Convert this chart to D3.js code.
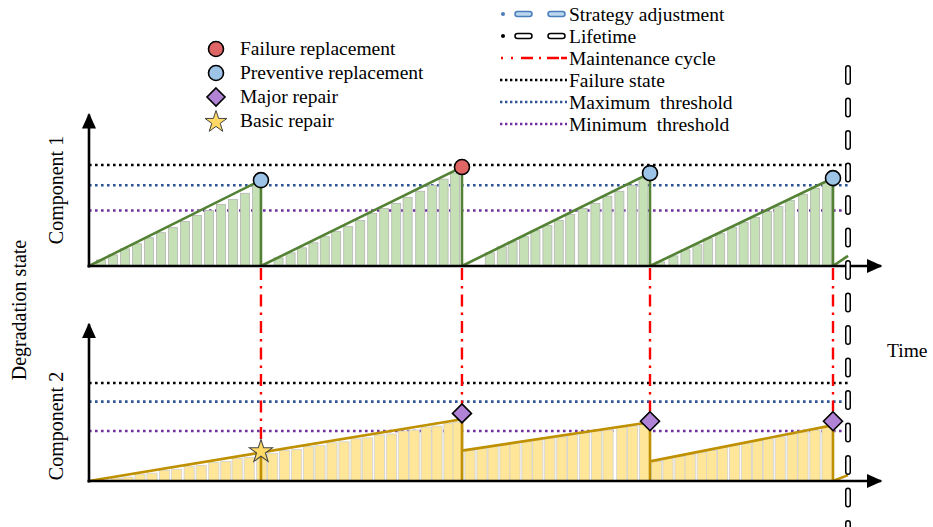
<!DOCTYPE html>
<html><head><meta charset="utf-8">
<script src="https://cdn.jsdelivr.net/npm/d3@7"></script>
<style>html,body{margin:0;padding:0;background:#fff;}svg{display:block;font-family:"Liberation Serif","Times New Roman",serif;}text{white-space:pre;}</style>
</head><body>
<svg id="c" width="933" height="527"></svg>
<script>
// ---------- data ----------
const maintenanceTimes = [14.33, 31.08, 46.75, 62.0];
const lifetimeTime = 63.25;
const thresholds1 = {failure: 1.0, max: 0.80, min: 0.55};
const thresholds2 = {failure: 1.0, max: 0.81, min: 0.51};

// component 1 degradation paths (start time, end time, end value)
const c1SegStart = [0, 14.33, 31.08, 46.75, 62.0];
const c1SegEnd   = [14.33, 31.08, 46.75, 62.0, 63.25];
const c1SegPeak  = [0.85, 0.98, 0.92, 0.87, 0.10];
const c1Events = ["preventive", "failure", "preventive", "preventive"];

const c1BarT = [1,2,3,4,5,6,7,8,9,10,11,12,13,14,
  15.8,16.8,17.75,18.7,19.65,20.6,21.6,22.6,23.6,24.6,25.6,26.55,27.6,28.6,29.55,30.5,
  33.4,34.4,35.3,36.25,37.2,38.2,39.15,40.1,41.15,42.2,43.2,44.2,45.25,46.2,
  47.6,48.7,49.7,50.7,51.6,52.6,53.6,54.55,55.5,56.5,57.45,58.4,59.5,60.5,61.5];
const c1BarV = [0.06,0.11,0.17,0.22,0.28,0.33,0.38,0.44,0.50,0.55,0.61,0.66,0.72,0.80,
  0.08,0.13,0.18,0.23,0.29,0.34,0.39,0.45,0.52,0.57,0.62,0.68,0.74,0.80,0.86,0.92,
  0.13,0.19,0.24,0.29,0.35,0.40,0.45,0.51,0.57,0.62,0.69,0.74,0.80,0.87,
  0.04,0.10,0.16,0.21,0.27,0.32,0.38,0.43,0.48,0.54,0.59,0.65,0.71,0.77,0.82];

// component 2 degradation paths
const c2SegStart  = [0, 31.08, 46.75, 62.0];
const c2SegEnd    = [31.08, 46.75, 62.0, 63.25];
const c2SegStartV = [0, 0.31, 0.20, 0];
const c2SegEndV   = [0.63, 0.60, 0.57, 0.06];
const c2BasicRepairT = 14.33, c2BasicRepairV = 0.30;
const c2MajorT = [31.08, 46.75, 62.0];
const c2MajorV = [0.69, 0.61, 0.61];

const c2BarT = [1.3,2.3,3.25,4.25,5.25,6.3,7.3,8.35,9.35,10.4,11.4,12.35,13.35,14.4,15.3,16.3,17.3,18.3,19.25,20.25,21.25,22.25,23.2,24.2,25.2,26.2,27.1,28.1,29.0,30.0,30.75,
  31.75,32.75,33.67,34.67,35.5,36.5,37.4,38.4,39.4,40.3,41.3,42.3,43.25,44.4,45.3,46.3,
  47.3,48.25,49.25,50.1,51.1,51.9,52.8,53.8,54.8,55.7,56.6,57.6,58.6,59.5,60.5,61.5];
const c2BarV = [0.01,0.03,0.04,0.07,0.08,0.11,0.12,0.15,0.16,0.19,0.20,0.23,0.24,0.27,0.28,0.31,0.32,0.35,0.36,0.39,0.40,0.43,0.44,0.47,0.48,0.51,0.52,0.55,0.56,0.59,0.60,
  0.31,0.33,0.35,0.37,0.38,0.40,0.42,0.44,0.45,0.47,0.49,0.51,0.52,0.55,0.56,0.58,
  0.20,0.23,0.25,0.27,0.29,0.31,0.34,0.36,0.38,0.41,0.43,0.45,0.48,0.50,0.52,0.55];

const markerLegend = ["Failure replacement","Preventive replacement","Major repair","Basic repair"];
const lineLegend = ["Strategy adjustment","Lifetime","Maintenance cycle","Failure state","Maximum  threshold","Minimum  threshold"];

// ---------- styles ----------
const C = {
  green:"#548235", greenBar:"#c5e0b4", orange:"#bf9000", orangeBar:"#ffe699",
  red:"#ff0000", black:"#000", blue:"#2f5597", purple:"#7030a0",
  failFill:"#e06666", prevFill:"#9dc3e6", diamond:"#b083d6", star:"#ffd966"
};

const svg = d3.select("#c");
const x = d3.scaleLinear().domain([0, 66]).range([89, 881]);
const yTop = d3.scaleLinear().domain([0, 1]).range([266, 165]);
const yBot = d3.scaleLinear().domain([0, 1]).range([481, 383]);

const defs = svg.append("defs");
defs.append("marker").attr("id","arr").attr("viewBox","0 0 10 10").attr("refX",9).attr("refY",5)
  .attr("markerWidth",6).attr("markerHeight",6).attr("markerUnits","strokeWidth").attr("orient","auto")
  .append("path").attr("d","M0,0.5 L10,5 L0,9.5 Z").attr("fill","#000");

function panel(y, th) {
  const g = svg.append("g");
  [["failure", C.black],["max", C.blue],["min", C.purple]].forEach(([k,col]) => {
    g.append("line").attr("x1", x(0)).attr("x2", x(lifetimeTime)).attr("y1", y(th[k])).attr("y2", y(th[k]))
      .attr("stroke", col).attr("stroke-width", 2.6).attr("stroke-dasharray","2.6,3.4");
  });
  return g;
}

// ---------- Panel 1 ----------
const g1 = panel(yTop, thresholds1);
const bw1 = 0.75;
g1.selectAll("rect.b").data(c1BarT.map((t,i)=>({t, v:c1BarV[i]}))).join("rect")
  .attr("x", d => x(d.t - bw1/2)).attr("width", x(bw1) - x(0))
  .attr("y", d => yTop(d.v)).attr("height", d => yTop(0) - yTop(d.v))
  .attr("fill", C.greenBar).attr("stroke", "#b4b4b4").attr("stroke-width", 0.8);
let p1 = d3.path();
c1SegStart.forEach((s,i) => {
  p1.moveTo(x(s), yTop(0)); p1.lineTo(x(c1SegEnd[i]), yTop(c1SegPeak[i]));
  if (i < c1SegStart.length - 1) p1.lineTo(x(c1SegEnd[i]), yTop(0));
});
g1.append("path").attr("d", p1.toString()).attr("fill","none").attr("stroke", C.green).attr("stroke-width", 2.6);

// ---------- Panel 2 ----------
const g2 = panel(yBot, thresholds2);
const bw2 = 0.85;
g2.selectAll("rect.b").data(c2BarT.map((t,i)=>({t, v:c2BarV[i]}))).join("rect")
  .attr("x", d => x(d.t - bw2/2)).attr("width", x(bw2) - x(0))
  .attr("y", d => yBot(d.v)).attr("height", d => yBot(0) - yBot(d.v))
  .attr("fill", C.orangeBar).attr("stroke", "#d0d0d0").attr("stroke-width", 0.8);
let p2 = d3.path();
c2SegStart.forEach((s,i) => {
  p2.moveTo(x(s), yBot(c2SegStartV[i])); p2.lineTo(x(c2SegEnd[i]), yBot(c2SegEndV[i]));
  if (i < c2SegStart.length - 1) p2.lineTo(x(c2SegEnd[i]), yBot(0));
});
p2.moveTo(x(c2BasicRepairT), yBot(c2BasicRepairV)); p2.lineTo(x(c2BasicRepairT), yBot(0));
g2.append("path").attr("d", p2.toString()).attr("fill","none").attr("stroke", C.orange).attr("stroke-width", 2.6);

// ---------- axes ----------
function axes(y, yTopVal) {
  svg.append("line").attr("x1", x(0)).attr("x2", x(0)).attr("y1", y(0)+1.5).attr("y2", y(yTopVal))
    .attr("stroke","#000").attr("stroke-width",2.6).attr("marker-end","url(#arr)");
  svg.append("line").attr("x1", x(0)-1.5).attr("x2", x(66)).attr("y1", y(0)).attr("y2", y(0))
    .attr("stroke","#000").attr("stroke-width",2.6).attr("marker-end","url(#arr)");
}
axes(yTop, 1.5);
axes(yBot, 1.6);

// ---------- maintenance cycle lines ----------
const c2EndMarkerV = [c2BasicRepairV].concat(c2MajorV);
maintenanceTimes.forEach((t,i) => {
  const yEnd = yBot(c2EndMarkerV[i]) - (i === 0 ? 9 : 10);
  svg.append("line").attr("x1", x(t)).attr("x2", x(t)).attr("y1", yTop(0)+2).attr("y2", yEnd)
    .attr("stroke", C.red).attr("stroke-width", 2.4).attr("stroke-dasharray","12,6,2.5,6");
});

// ---------- lifetime line ----------
svg.append("line").attr("x1", x(lifetimeTime)).attr("x2", x(lifetimeTime)).attr("y1", 68).attr("y2", 527)
  .attr("stroke","#000").attr("stroke-width",6).attr("stroke-linecap","round").attr("stroke-dasharray","14,18.5");
svg.append("line").attr("x1", x(lifetimeTime)).attr("x2", x(lifetimeTime)).attr("y1", 68).attr("y2", 527)
  .attr("stroke","#fff").attr("stroke-width",3).attr("stroke-linecap","round").attr("stroke-dasharray","14,18.5");

// ---------- markers ----------
const star = d3.symbol().type(d3.symbolStar).size(150);
const diamondPath = r => `M0,${-r} L${r},0 L0,${r} L${-r},0 Z`;
c1Events.forEach((e,i) => {
  svg.append("circle").attr("cx", x(c1SegEnd[i])).attr("cy", yTop(c1SegPeak[i])).attr("r", 7.5)
    .attr("fill", e === "failure" ? C.failFill : C.prevFill).attr("stroke","#000").attr("stroke-width",1.6);
});
c2MajorT.forEach((t,i) => {
  svg.append("path").attr("d", diamondPath(9.5)).attr("transform", `translate(${x(t)},${yBot(c2MajorV[i])})`)
    .attr("fill", C.diamond).attr("stroke","#000").attr("stroke-width",1.6);
});
svg.append("path").attr("d", star()).attr("transform", `translate(${x(c2BasicRepairT)},${yBot(c2BasicRepairV)}) scale(1.05)`)
  .attr("fill", C.star).attr("stroke","#444").attr("stroke-width",1);

// ---------- labels ----------
svg.append("text").attr("transform","translate(26,310) rotate(-90)").attr("text-anchor","middle")
  .attr("font-size",20).text("Degradation state");
svg.append("text").attr("transform","translate(63,190) rotate(-90)").attr("text-anchor","middle")
  .attr("font-size",20).text("Component 1");
svg.append("text").attr("transform","translate(63,426) rotate(-90)").attr("text-anchor","middle")
  .attr("font-size",20).text("Component 2");
svg.append("text").attr("x",887).attr("y",357).attr("font-size",19.5).text("Time");

// ---------- left legend ----------
const lgL = svg.append("g");
markerLegend.forEach((name,i) => {
  const cy = 49 + i*24, cx = 216;
  if (i < 2) lgL.append("circle").attr("cx",cx).attr("cy",cy).attr("r",7.5)
    .attr("fill", i===0 ? C.failFill : C.prevFill).attr("stroke","#000").attr("stroke-width",1.6);
  else if (i === 2) lgL.append("path").attr("d", diamondPath(9)).attr("transform",`translate(${cx},${cy})`)
    .attr("fill", C.diamond).attr("stroke","#000").attr("stroke-width",1.6);
  else lgL.append("path").attr("d", star()).attr("transform",`translate(${cx},${cy+1})`)
    .attr("fill", C.star).attr("stroke","#444").attr("stroke-width",1);
  lgL.append("text").attr("x",240).attr("y",cy+6).attr("font-size",19.5).text(name);
});

// ---------- right legend ----------
const lgR = svg.append("g");
lineLegend.forEach((name,i) => {
  const cy = 14 + i*22;
  lgR.append("text").attr("x",569).attr("y",cy+6.5).attr("font-size",19.5).text(name);
  if (i < 2) {
    const col = i === 0 ? "#4a7ebb" : "#000", fill = i === 0 ? "#bdd7ee" : "#fff";
    lgR.append("circle").attr("cx",503).attr("cy",cy).attr("r",2).attr("fill",col);
    [515, 548].forEach(sx => lgR.append("rect").attr("x",sx).attr("y",cy-2.5).attr("width",17).attr("height",5)
      .attr("rx",2.5).attr("fill",fill).attr("stroke",col).attr("stroke-width",1.5));
  } else if (i === 2) {
    lgR.append("line").attr("x1",501).attr("x2",567).attr("y1",cy).attr("y2",cy).attr("stroke",C.red)
      .attr("stroke-width",2.5).attr("stroke-dasharray","2,8,2,8,12,6,2,6,12");
  } else {
    const col = [C.black, C.blue, C.purple][i-3];
    lgR.append("line").attr("x1",500).attr("x2",567).attr("y1",cy).attr("y2",cy).attr("stroke",col)
      .attr("stroke-width",2.4).attr("stroke-dasharray","2.4,2.6");
  }
});
</script>
</body></html>
